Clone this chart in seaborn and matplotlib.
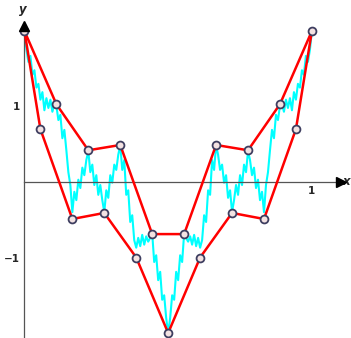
import numpy as np
import pandas as pd
import matplotlib
matplotlib.use("Agg")
import matplotlib.pyplot as plt
import seaborn as sns

# interpolation points (x = k/18)
red_y = [2.0, 0.70, 1.03, -0.49, 0.42, -0.41, 0.49, -1.0, -0.69, -2.0,
         -0.69, -1.0, 0.49, -0.41, 0.42, -0.49, 1.03, 0.70, 2.0]
upper_idx = [0, 2, 4, 6, 8, 10, 12, 14, 16, 18]
lower_idx = [0, 1, 3, 5, 7, 9, 11, 13, 15, 17, 18]

# fractal curve (x = k/144)
cyan_left = [2.0, 1.75, 1.59, 1.67, 1.42, 1.48, 1.25, 1.30, 1.09, 1.19,
             0.95, 1.11, 0.98, 1.09, 0.93, 1.03, 1.01, 0.82, 0.89, 0.58,
             0.69, 0.42, 0.13, -0.04, -0.40, -0.13, -0.24, 0.03, -0.08, 0.19,
             0.09, 0.29, 0.41, 0.13, 0.23, -0.04, 0.09, -0.17, -0.04, -0.24,
             -0.40, -0.11, -0.21, 0.09, -0.01, 0.23, 0.16, 0.36, 0.49, 0.16,
             0.29, -0.17, -0.11, -0.53, -0.44, -0.77, -0.87, -0.74, -0.85, -0.70,
             -0.83, -0.72, -0.79, -0.74, -0.68, -1.06, -0.97, -1.30, -1.19, -1.56,
             -1.50, -1.80, -2.0]
cyan_right = [-1.80, -1.50, -1.56, -1.19, -1.30, -0.97, -1.06, -0.68, -0.74, -0.79,
              -0.72, -0.83, -0.70, -0.85, -0.74, -0.87, -0.77, -0.44, -0.53, -0.11,
              -0.17, 0.29, 0.16, 0.49, 0.36, 0.16, 0.23, -0.01, 0.09, -0.21,
              -0.11, -0.40, -0.24, -0.04, -0.17, 0.09, -0.04, 0.23, 0.13, 0.41,
              0.29, 0.09, 0.19, -0.08, 0.03, -0.24, -0.13, -0.40, -0.04, 0.13,
              0.42, 0.69, 0.58, 0.89, 0.82, 1.01, 1.03, 0.93, 1.09, 0.98,
              1.11, 0.95, 1.19, 1.09, 1.30, 1.25, 1.48, 1.42, 1.67, 1.59,
              1.75, 2.0]

cyan = pd.DataFrame({"x": np.linspace(0, 1, 145), "y": cyan_left + cyan_right})
pts = pd.DataFrame({"x": np.arange(19) / 18, "y": red_y})
upper = pts.iloc[upper_idx]
lower = pts.iloc[lower_idx]

sns.set_style("white")
plt.rcParams["font.family"] = ["DejaVu Sans"]

fig = plt.figure(figsize=(3.51, 3.38), dpi=100)
ax = fig.add_axes([0, 0, 1, 1])

sns.lineplot(data=cyan, x="x", y="y", ax=ax, color="#00ffff", lw=1.5,
             estimator=None, sort=False, zorder=2)
sns.lineplot(data=upper, x="x", y="y", ax=ax, color="#ff0000", lw=1.8,
             estimator=None, sort=False, zorder=3)
sns.lineplot(data=lower, x="x", y="y", ax=ax, color="#ff0000", lw=1.8,
             estimator=None, sort=False, zorder=3)
sns.scatterplot(data=pts, x="x", y="y", ax=ax, s=32, color="#f3e2e2",
                edgecolor="#3e3e60", linewidth=1.3, zorder=4)

ax.set_xlim(-0.085, 1.136)
ax.set_ylim(-2.066, 2.41)

# axes through the origin
for s in ["top", "right"]:
    ax.spines[s].set_visible(False)
ax.spines["left"].set_position(("data", 0))
ax.spines["bottom"].set_position(("data", 0))
ax.spines["bottom"].set_bounds(0, 1.10)
ax.spines["left"].set_bounds(-2.066, 2.06)
for s in ["left", "bottom"]:
    ax.spines[s].set_color("#555555")
    ax.spines[s].set_linewidth(0.9)
ax.plot(1.10, 0, marker=">", color="black", ms=6.5, clip_on=False, zorder=5)
ax.plot(0, 2.07, marker="^", color="black", ms=6.5, clip_on=False, zorder=5)

ax.set_xticks([1])
ax.set_yticks([-1, 1])
ax.set_xticklabels(["1"])
ax.set_yticklabels(["\u22121", "1"])
ax.tick_params(direction="in", length=3, width=0.8, color="#555555",
               labelsize=7.5, pad=3)
for t in ax.get_xticklabels() + ax.get_yticklabels():
    t.set_fontweight("bold")
ax.set_xlabel("")
ax.set_ylabel("")

ax.text(-0.005, 2.28, "y", fontsize=8.5, fontweight="bold", style="italic",
        ha="center", va="center")
ax.text(1.134, 0.0, "x", fontsize=8.5, fontweight="bold", style="italic",
        ha="right", va="center")

fig.savefig("out.png", dpi=100)
